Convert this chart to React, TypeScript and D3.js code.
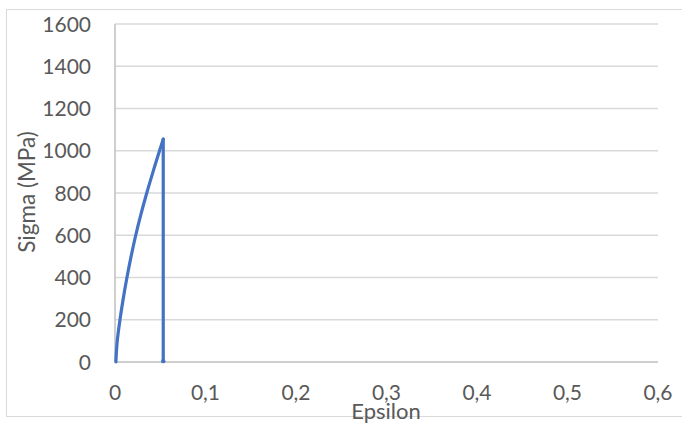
import React from "react";
import * as d3 from "d3";

const epsilon = [0.001, 0.0016, 0.0025, 0.0055, 0.0091, 0.0132, 0.0178, 0.0229, 0.0287, 0.0351, 0.042, 0.0492, 0.0533, 0.0533, 0.0533];
const sigma = [0, 50, 100, 200, 300, 400, 500, 600, 700, 800, 900, 1000, 1055, 500, 4];
const xTicks = [0, 0.1, 0.2, 0.3, 0.4, 0.5, 0.6];
const yTicks = [0, 200, 400, 600, 800, 1000, 1200, 1400, 1600];

const W = 682, H = 426;
const left = 115, right = 658, top = 24, bottom = 362;
const font = "Lato, 'Open Sans', sans-serif";
const textColor = "#595959";

export default function App() {
  const x = d3.scaleLinear().domain([0, 0.6]).range([left, right]);
  const y = d3.scaleLinear().domain([0, 1600]).range([bottom, top]);
  const pts: [number, number][] = epsilon.map((e, i) => [e, sigma[i]]);
  const peak = d3.maxIndex(sigma);
  const rising = pts.slice(0, peak + 1);
  const drop = pts.slice(peak);
  const smooth = d3.line<[number, number]>().x(d => x(d[0])).y(d => y(d[1])).curve(d3.curveCatmullRom);
  const straight = d3.line<[number, number]>().x(d => x(d[0])).y(d => y(d[1]));
  const fmt = (v: number) => (v === 0 ? "0" : String(v).replace(".", ","));
  const last = pts[pts.length - 1];
  return (
    <svg width={W} height={H} style={{ position: "absolute", left: 0, top: 0, background: "#fff" }}>
      <rect x={6.5} y={9.5} width={W} height={407} fill="#fff" stroke="#D9D9D9" strokeWidth={1} />
      {yTicks.map(t => (
        <line key={"g" + t} x1={left} x2={right} y1={y(t)} y2={y(t)} stroke={t === 0 ? "#BFBFBF" : "#D9D9D9"} strokeWidth={1.5} />
      ))}
      <line x1={left} x2={left} y1={top} y2={bottom} stroke="#BFBFBF" strokeWidth={1.5} />
      {yTicks.map(t => (
        <text key={"y" + t} x={91} y={y(t)} dy="0.36em" textAnchor="end" fontFamily={font} fontSize={21} fill={textColor}>{t}</text>
      ))}
      {xTicks.map(t => (
        <text key={"x" + t} x={x(t)} y={400} textAnchor="middle" fontFamily={font} fontSize={21} fill={textColor}>{fmt(t)}</text>
      ))}
      <text x={386} y={419} textAnchor="middle" fontFamily={font} fontSize={22} fill={textColor}>Epsilon</text>
      <text transform={`translate(35,192) rotate(-90)`} textAnchor="middle" fontFamily={font} fontSize={22.5} fill={textColor}>Sigma (MPa)</text>
      <path d={smooth(rising) || ""} fill="none" stroke="#4472C4" strokeWidth={3.2} strokeLinejoin="round" strokeLinecap="round" />
      <path d={straight(drop) || ""} fill="none" stroke="#4472C4" strokeWidth={3.2} strokeLinejoin="round" strokeLinecap="round" />
      <circle cx={x(last[0])} cy={y(last[1])} r={2.2} fill="#4472C4" />
    </svg>
  );
}
